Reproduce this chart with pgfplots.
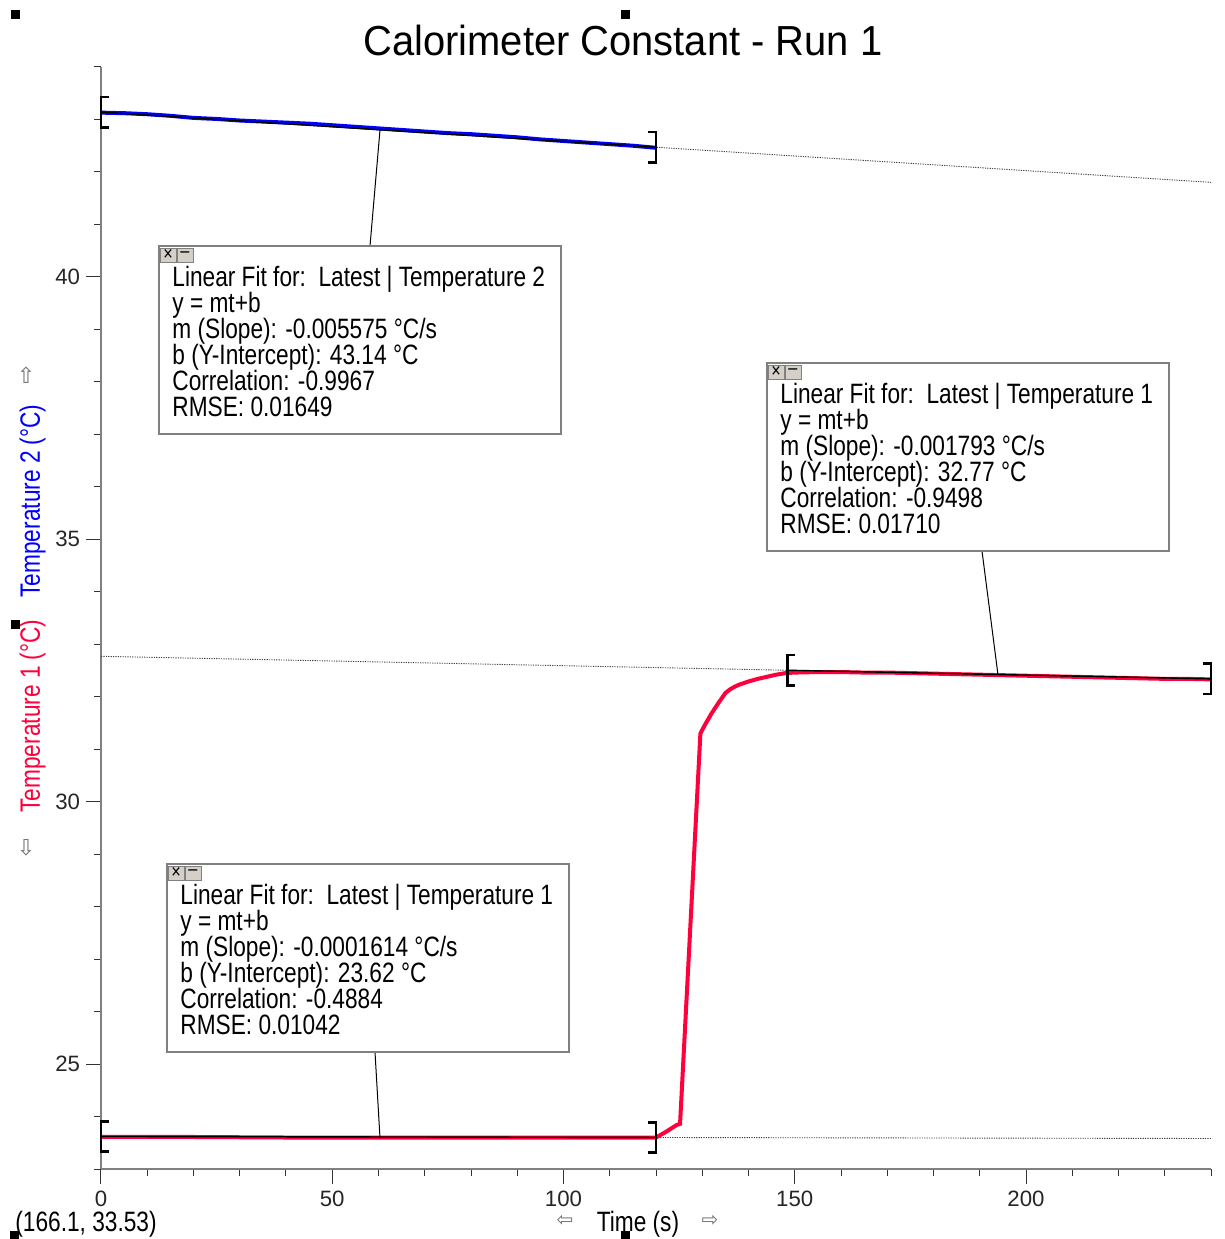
\documentclass[border=0pt]{standalone}
\usepackage{pgfplots}
\pgfplotsset{compat=1.18}
\usepackage{fontspec}
\setmainfont{Liberation Sans}
\newfontfamily\uifont{Liberation Sans}[FakeStretch=0.81]
\newfontfamily\titlefont{Liberation Sans}[FakeStretch=0.95]
\newfontfamily\symfont{DejaVu Sans}
\definecolor{tred}{RGB}{255,0,60}
\definecolor{tblue}{RGB}{0,0,255}
\definecolor{boxgray}{RGB}{128,128,128}
\definecolor{btn}{RGB}{212,208,200}
\pgfdeclareplotmark{lbrack}{%
  \pgfpathmoveto{\pgfqpoint{3.8pt}{7.6pt}}%
  \pgfpathlineto{\pgfqpoint{0pt}{7.6pt}}%
  \pgfpathlineto{\pgfqpoint{0pt}{-7.6pt}}%
  \pgfpathlineto{\pgfqpoint{3.8pt}{-7.6pt}}%
  \pgfusepathqstroke}
\pgfdeclareplotmark{rbrack}{%
  \pgfpathmoveto{\pgfqpoint{-3.8pt}{7.6pt}}%
  \pgfpathlineto{\pgfqpoint{0pt}{7.6pt}}%
  \pgfpathlineto{\pgfqpoint{0pt}{-7.6pt}}%
  \pgfpathlineto{\pgfqpoint{-3.8pt}{-7.6pt}}%
  \pgfusepathqstroke}
\newcommand\boxfont{\uifont\fontsize{14}{13}\selectfont}
\newcommand\fitbox[8]{%
  \draw[boxgray, line width=0.6pt, fill=white] (#1,#2) rectangle ({#1+402},{#2+188});
  \fill[btn] ({#1+1},{#2+2}) rectangle ({#1+34},{#2+16});
  \draw[boxgray, line width=0.4pt] ({#1+1},{#2+2}) rectangle ({#1+17},{#2+16}) ({#1+18},{#2+2}) rectangle ({#1+34},{#2+16});
  \node[font=\uifont\fontsize{10}{10}\selectfont, inner sep=0] at ({#1+9},{#2+9}) {×};
  \node[font=\uifont\fontsize{10}{10}\selectfont, inner sep=0] at ({#1+26},{#2+9}) {–};
  \node[anchor=base west, inner sep=0, font=\boxfont] at ({#1+13},{#2+41}) {#3};
  \node[anchor=base west, inner sep=0, font=\boxfont] at ({#1+13},{#2+67}) {#4};
  \node[anchor=base west, inner sep=0, font=\boxfont] at ({#1+13},{#2+93}) {#5};
  \node[anchor=base west, inner sep=0, font=\boxfont] at ({#1+13},{#2+119}) {#6};
  \node[anchor=base west, inner sep=0, font=\boxfont] at ({#1+13},{#2+145}) {#7};
  \node[anchor=base west, inner sep=0, font=\boxfont] at ({#1+13},{#2+171}) {#8};
}
\begin{document}
\begin{tikzpicture}
\begin{axis}[
  at={(0,0)}, anchor=south west,
  scale only axis, width=555pt, height=551pt,
  xmin=0, xmax=240, ymin=23, ymax=44,
  axis lines*=left,
  axis line style={draw=black!50, line width=1.1pt},
  xtick={0,50,100,150,200},
  minor xtick={10,20,...,240},
  ytick={25,30,35,40},
  minor ytick={23,24,...,44},
  tick align=outside,
  major tick length=7.5pt, minor tick length=3.5pt,
  tick style={black!80, line width=0.5pt},
  ticklabel style={font=\fontsize{11.1}{12}\selectfont, text=black!85, inner sep=2pt},
  xticklabel style={yshift=-1.2pt},
  yticklabel style={xshift=-0.8pt},
  /pgf/number format/assume math mode=true,
  clip=false,
]
% fit lines over the whole range (dotted)
\addplot[black!75, line width=0.45pt, dash pattern=on 0.6pt off 0.6pt] coordinates {(0,43.14) (240,41.802)};
\addplot[black!75, line width=0.45pt, dash pattern=on 0.6pt off 0.6pt] coordinates {(0,23.62) (240,23.581)};
\addplot[black!75, line width=0.45pt, dash pattern=on 0.6pt off 0.6pt] coordinates {(0,32.77) (240,32.340)};
% Temperature 2
\addplot[tblue, line width=2pt] coordinates {
(0,43.13) (5,43.12) (10,43.10) (15,43.07) (20,43.03) (25,43.01) (30,42.98) (35,42.96)
(40,42.94) (45,42.92) (50,42.89) (55,42.86) (60,42.83) (65,42.80) (70,42.77) (75,42.74)
(80,42.72) (85,42.69) (90,42.66) (95,42.62) (100,42.59) (105,42.56) (110,42.53) (115,42.50) (120,42.46)};
% Temperature 1
\addplot[tred, line width=2pt] coordinates {
(0,23.61) (20,23.61) (40,23.60) (60,23.60) (80,23.60) (100,23.60) (120,23.60)
(122,23.70) (124.5,23.84) (125.2,23.86) (129.6,31.30) (130.5,31.45) (132,31.68) (133.5,31.88)
(135,32.07) (136,32.14) (137,32.19) (138,32.23) (140,32.29) (142,32.34) (144,32.38)
(146,32.42) (148,32.45) (150,32.46) (155,32.47) (160,32.47) (165,32.46) (170,32.46)
(175,32.45) (180,32.44) (185,32.43) (190,32.42) (195,32.41) (200,32.40) (205,32.39)
(210,32.38) (215,32.37) (220,32.36) (225,32.35) (230,32.34) (235,32.34) (240,32.33)};
% fit lines over the fitted range (solid)
\addplot[black, line width=0.7pt] coordinates {(0,43.14) (120,42.471)};
\addplot[black, line width=0.7pt] coordinates {(0,23.62) (120,23.601)};
\addplot[black, line width=0.7pt] coordinates {(148.5,32.504) (240,32.340)};
% range brackets
\addplot[only marks, mark=lbrack, mark options={black, line width=1.4pt, solid}] coordinates {(0,43.14) (0,23.62) (148.5,32.504)};
\addplot[only marks, mark=rbrack, mark options={black, line width=1.4pt, solid}] coordinates {(120,42.471) (120,23.601) (240,32.340)};
\end{axis}
\begin{scope}[x=0.5pt, y=-0.5pt, shift={(-50.5pt,584.5pt)}]
  % leader lines
  \draw[black, line width=0.5pt] (370,246) -- (380,130);
  \draw[black, line width=0.5pt] (982,551) -- (998,675);
  \draw[black, line width=0.5pt] (375,1052) -- (380,1138);
  \fitbox{159}{246}{Linear Fit for:~\ Latest | Temperature 2}{y = mt+b}{m (Slope): -0.005575 °C/s}{b (Y-Intercept): 43.14 °C}{Correlation: -0.9967}{RMSE: 0.01649}
  \fitbox{767}{363}{Linear Fit for:~\ Latest | Temperature 1}{y = mt+b}{m (Slope): -0.001793 °C/s}{b (Y-Intercept): 32.77 °C}{Correlation: -0.9498}{RMSE: 0.01710}
  \fitbox{167}{864}{Linear Fit for:~\ Latest | Temperature 1}{y = mt+b}{m (Slope): -0.0001614 °C/s}{b (Y-Intercept): 23.62 °C}{Correlation: -0.4884}{RMSE: 0.01042}
  % title
  \node[anchor=base, inner sep=0, font=\titlefont\fontsize{21}{25}\selectfont] at (623,56) {Calorimeter Constant - Run 1};
  % y labels
  \node[rotate=90, anchor=base, inner sep=0, font=\boxfont, text=tred] at (40,716) {Temperature 1 (°C)};
  \node[rotate=90, anchor=base, inner sep=0, font=\boxfont, text=tblue] at (40,501) {Temperature 2 (°C)};
  \node[inner sep=0, font=\symfont\fontsize{11}{11}\selectfont, text=black!55] at (26,375) {⇧};
  \node[inner sep=0, font=\symfont\fontsize{11}{11}\selectfont, text=black!55] at (26,848) {⇩};
  % x label
  \node[anchor=base, inner sep=0, font=\boxfont] at (638,1232) {Time (s)};
  \node[inner sep=0, font=\symfont\fontsize{10}{10}\selectfont, text=black!55] at (565,1221) {⇦};
  \node[inner sep=0, font=\symfont\fontsize{10}{10}\selectfont, text=black!55] at (710,1221) {⇨};
  \node[anchor=base west, inner sep=0, font=\boxfont] at (15,1232) {(166.1, 33.53)};
  % selection handles
  \fill[black] (11,10) rectangle (20,19);
  \fill[black] (621,10) rectangle (630,19);
  \fill[black] (11,620) rectangle (20,629);
  \fill[black] (10,1231) rectangle (19,1240);
  \fill[black] (621,1231) rectangle (630,1240);
  \pgfresetboundingbox
  \path[use as bounding box] (0,0) rectangle (1225,1239);
\end{scope}
\end{tikzpicture}
\end{document}
